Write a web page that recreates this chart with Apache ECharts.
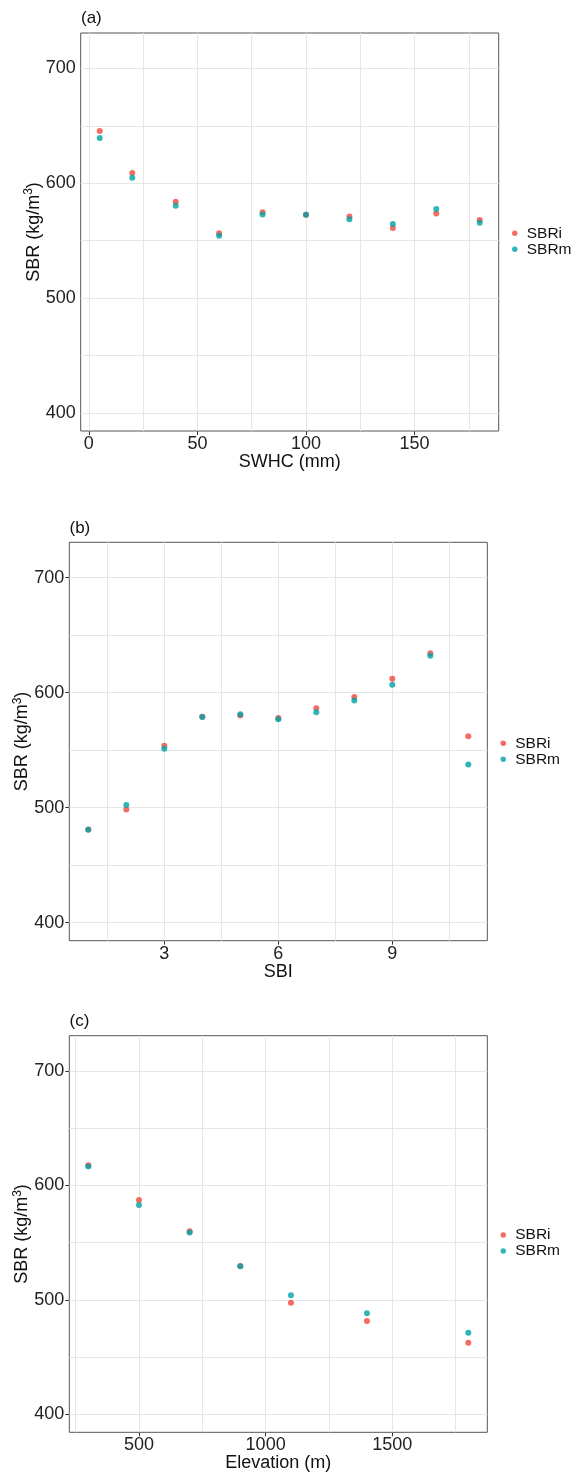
<!DOCTYPE html>
<html>
<head>
<meta charset="utf-8">
<script src="https://cdn.jsdelivr.net/npm/echarts@6/dist/echarts.min.js"></script>
<style>
html,body{margin:0;padding:0;background:#fff;}
#c{width:572px;height:1475px;}
</style>
</head>
<body>
<div id="c"></div>
<script>
// ---- data ----
const seriesNames = ['SBRi', 'SBRm'];

const swhc  = [5, 20, 40, 60, 80, 100, 120, 140, 160, 180];
const sbriA = [645.4, 608.8, 583.8, 556.5, 574.6, 572.5, 571.1, 560.9, 573.7, 567.9];
const sbrmA = [639.3, 604.7, 580.3, 554.2, 572.8, 572.5, 568.7, 564.4, 577.5, 565.5];

const sbi   = [1, 2, 3, 4, 5, 6, 7, 8, 9, 10, 11];
const sbriB = [481.0, 498.4, 553.7, 579.0, 580.1, 578.0, 586.4, 596.3, 612.0, 634.3, 562.0];
const sbrmB = [480.7, 502.3, 551.3, 578.9, 581.2, 576.8, 582.9, 593.1, 606.8, 632.1, 537.6];

const elev  = [300, 500, 700, 900, 1100, 1400, 1800];
const sbriC = [617.5, 587.1, 559.8, 529.5, 497.4, 481.4, 462.5];
const sbrmC = [616.4, 582.8, 558.9, 529.3, 504.0, 488.3, 471.2];

// tick labels
const yTicks  = [400, 500, 600, 700];
const xTicksA = [0, 50, 100, 150];
const xTicksB = [3, 6, 9];
const xTicksC = [500, 1000, 1500];
// grid lines (major + minor)
const yGrid  = [400, 450, 500, 550, 600, 650, 700];
const xGridA = [0, 25, 50, 75, 100, 125, 150, 175];
const xGridB = [1.5, 3, 4.5, 6, 7.5, 9, 10.5];
const xGridC = [250, 500, 750, 1000, 1250, 1500, 1750];
const yLimits = [400, 715];

const xTitles = ['SWHC (mm)', 'SBI', 'Elevation (m)'];
const panelLabels = ['(a)', '(b)', '(c)'];

// ---- helpers ----
const RED = '#F0483D', TEAL = '#00A3A6';
const FONT = 'Liberation Sans, Arial, Helvetica, sans-serif';
function expand(lo, hi) { const r = hi - lo; return [lo - 0.05 * r, hi + 0.05 * r]; }
const yRange = expand(yLimits[0], yLimits[1]);
const plain = v => String(v);

const panels = [
  { x: swhc, ri: sbriA, rm: sbrmA, xt: xTicksA, xg: xGridA, grid: { left: 80.7, top: 33, width: 418, height: 398 }, legend: { left: 512, top: 225.3 }, label: { left: 81, top: 10 } },
  { x: sbi,  ri: sbriB, rm: sbrmB, xt: xTicksB, xg: xGridB, grid: { left: 69.3, top: 542.3, width: 418, height: 398.4 }, legend: { left: 500.5, top: 735.3 }, label: { left: 69.5, top: 520 } },
  { x: elev, ri: sbriC, rm: sbrmC, xt: xTicksC, xg: xGridC, grid: { left: 69.3, top: 1035.7, width: 418, height: 396.6 }, legend: { left: 500.5, top: 1227 }, label: { left: 69.5, top: 1012.5 } }
];

const option = {
  animation: false,
  backgroundColor: '#fff',
  textStyle: { fontFamily: FONT },
  grid: [], xAxis: [], yAxis: [], series: [], legend: [], title: []
};

panels.forEach((p, i) => {
  const xr = expand(Math.min(...p.x), Math.max(...p.x));
  option.grid.push(Object.assign({ show: true, borderColor: '#555', borderWidth: 1, backgroundColor: 'transparent', containLabel: false }, p.grid));
  option.title.push({ text: panelLabels[i], left: p.label.left, top: p.label.top, padding: 0,
    textStyle: { fontFamily: FONT, fontSize: 17, fontWeight: 'normal', color: '#111' } });
  option.xAxis.push({
    type: 'value', gridIndex: i, min: xr[0], max: xr[1],
    name: xTitles[i], nameLocation: 'middle', nameGap: 22, nameMoveOverlap: false,
    nameTextStyle: { fontFamily: FONT, fontSize: 18, color: '#111' },
    axisLine: { show: false },
    axisTick: { show: true, length: 4, lineStyle: { color: '#333' }, customValues: p.xt },
    axisLabel: { show: true, margin: 4, fontSize: 18, color: '#222', fontFamily: FONT, customValues: p.xt, formatter: plain },
    splitLine: { show: false }
  });
  option.yAxis.push({
    type: 'value', gridIndex: i, min: yRange[0], max: yRange[1],
    name: '{a|SBR (kg/m}{s|3}{a|)}', nameLocation: 'middle', nameGap: 36, nameMoveOverlap: false,
    nameTextStyle: { fontFamily: FONT, fontSize: 18, color: '#111',
      rich: { a: { fontFamily: FONT, fontSize: 18, color: '#111', lineHeight: 22 },
              s: { fontFamily: FONT, fontSize: 12, color: '#111', verticalAlign: 'top', lineHeight: 12 } } },
    axisLine: { show: false },
    axisTick: { show: true, length: 4, lineStyle: { color: '#333' }, customValues: yTicks },
    axisLabel: { show: true, margin: 5, fontSize: 18, color: '#222', fontFamily: FONT, customValues: yTicks, formatter: plain },
    splitLine: { show: false }
  });
  const gridLines = yGrid.map(v => ({ yAxis: v })).concat(p.xg.map(v => ({ xAxis: v })));
  option.series.push({
    name: seriesNames[0], type: 'scatter', xAxisIndex: i, yAxisIndex: i, z: 5,
    symbol: 'circle', symbolSize: 6, itemStyle: { color: RED },
    data: p.x.map((xv, k) => [xv, p.ri[k]]),
    markLine: { silent: true, z: 1, symbol: ['none', 'none'], label: { show: false },
      lineStyle: { color: '#E6E6E6', width: 1, type: 'solid' }, emphasis: { disabled: true },
      data: gridLines }
  });
  option.series.push({
    name: seriesNames[1], type: 'scatter', xAxisIndex: i, yAxisIndex: i, z: 6,
    symbol: 'circle', symbolSize: 6, itemStyle: { color: TEAL },
    data: p.x.map((xv, k) => [xv, p.rm[k]])
  });
  option.legend.push({
    data: seriesNames, orient: 'vertical', left: p.legend.left, top: p.legend.top, padding: 0,
    icon: 'circle', itemWidth: 14, itemHeight: 5.5, itemGap: 0, selectedMode: false,
    textStyle: { fontFamily: FONT, fontSize: 15.5, color: '#111', lineHeight: 15.5 }
  });
});

const chart = echarts.init(document.getElementById('c'), null, { renderer: 'canvas' });
chart.setOption(option);
</script>
</body>
</html>
